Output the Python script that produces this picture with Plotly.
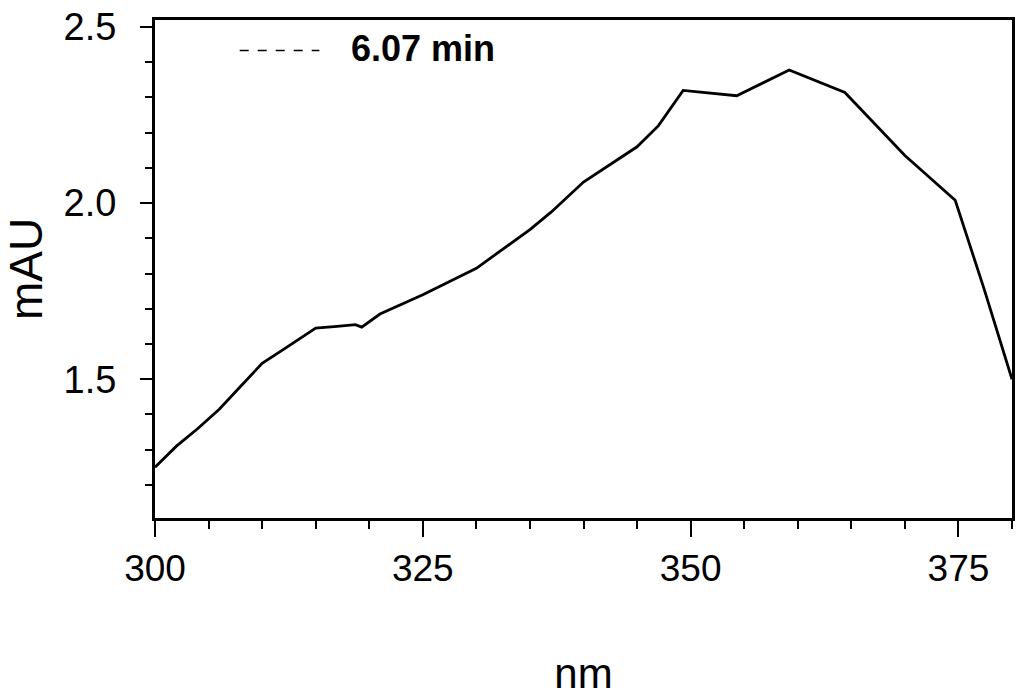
import plotly.graph_objects as go

wavelength = [300, 302, 304, 306, 308, 310, 312, 315, 317, 318.7, 319.3, 321, 325, 330,
              335, 337, 340, 345, 347, 349.3, 354.3, 359.2, 364.4, 367, 370, 374.7, 377.4, 380]
absorbance = [1.25, 1.31, 1.36, 1.415, 1.48, 1.545, 1.585, 1.645, 1.65, 1.655, 1.648, 1.685, 1.74, 1.815,
              1.925, 1.975, 2.06, 2.16, 2.22, 2.32, 2.305, 2.378, 2.314, 2.23, 2.135, 2.008, 1.756, 1.5]
legend_name = "6.07 min"

FONT = "Liberation Sans, Arial, sans-serif"

T, B = 14, 175
PH = 697 - T - B

fig = go.Figure()
fig.add_trace(go.Scatter(x=wavelength, y=absorbance, mode="lines",
                         line=dict(color="black", width=2.8), showlegend=False))

# legend sample (dashed line) and label
fig.add_shape(type="line", xref="paper", yref="paper",
              x0=(240 - 155) / 860, x1=(320 - 155) / 860,
              y0=(697 - B - 45) / PH, y1=(697 - B - 45) / PH,
              line=dict(color="black", width=1.5, dash="dash"))
fig.add_annotation(xref="paper", yref="paper", x=(350 - 155) / 860, y=(697 - B - 43) / PH,
                   xanchor="left", yanchor="middle", showarrow=False,
                   text="<b>" + legend_name + "</b>", font=dict(size=36, family=FONT, color="black"))

fig.update_layout(
    width=1021, height=697,
    margin=dict(l=155, r=6, t=T, b=B),
    paper_bgcolor="white", plot_bgcolor="white",
    font=dict(family=FONT, color="black"),
    showlegend=False,
    xaxis=dict(range=[300, 380], tickmode="array", tickvals=[300, 325, 350, 375],
               ticks="outside", ticklen=16, tickwidth=2, tickcolor="black",
               showline=True, linecolor="black", linewidth=3, mirror=True,
               showgrid=False, zeroline=False, ticklabeloverflow="allow",
               tickfont=dict(size=37, family=FONT), ticklabelstandoff=0,
               minor=dict(dtick=5, ticks="outside", ticklen=8, tickwidth=1.5, tickcolor="black", showgrid=False),
               title=dict(text="nm", font=dict(size=42, family=FONT), standoff=72)),
    yaxis=dict(range=[1.106, 2.52], tickmode="array", tickvals=[1.5, 2.0, 2.5],
               tickformat=".1f",
               ticks="outside", ticklen=12, tickwidth=2, tickcolor="black",
               showline=True, linecolor="black", linewidth=3, mirror=True,
               showgrid=False, zeroline=False, ticklabeloverflow="allow",
               tickfont=dict(size=38, family=FONT), ticklabelstandoff=16,
               minor=dict(dtick=0.1, tick0=1.0, ticks="outside", ticklen=7, tickwidth=1.5, tickcolor="black", showgrid=False),
               title=dict(text="mAU", font=dict(size=46, family=FONT), standoff=8)),
)

fig.write_html("out.html")
